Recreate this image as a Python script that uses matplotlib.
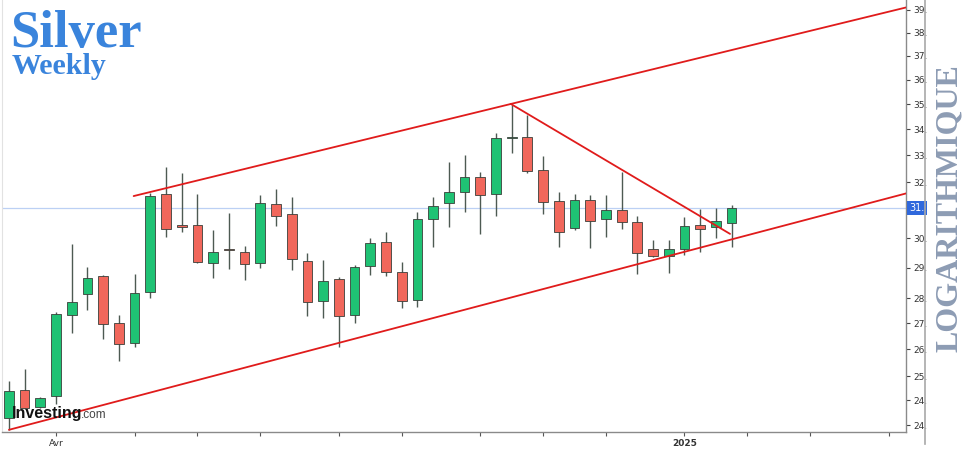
import matplotlib
matplotlib.use("Agg")
import matplotlib.pyplot as plt
import matplotlib.transforms as mtransforms
from matplotlib.lines import Line2D
from matplotlib.ticker import NullLocator, NullFormatter
import numpy as np
import pandas as pd

# ---------------- data ----------------
weeks = pd.date_range("2024-03-11", periods=47, freq="W-MON")
opens = [24.40, 25.20, 24.70, 25.02, 27.47, 28.14, 28.73, 27.22, 26.60, 28.20,
         31.57, 30.45, 30.47, 29.16, 29.62, 29.53, 29.16, 31.20, 30.85, 29.23,
         27.91, 28.63, 27.47, 29.06, 29.87, 28.86, 27.94, 30.68, 31.24, 31.64,
         32.19, 31.57, 33.68, 33.71, 32.45, 31.32, 30.36, 31.35, 30.68, 30.99,
         30.57, 29.63, 29.39, 29.63, 30.47, 30.39, 30.53]
highs = [25.46, 25.82, 25.00, 27.55, 29.81, 29.03, 28.75, 27.47, 28.80, 31.60,
         32.56, 32.34, 31.57, 30.29, 30.89, 29.74, 31.53, 31.75, 31.46, 29.50,
         29.26, 28.70, 29.09, 30.01, 30.22, 29.19, 30.92, 31.46, 32.75, 33.02,
         32.37, 33.86, 34.97, 34.57, 32.98, 31.64, 31.57, 31.53, 31.53, 32.37,
         30.78, 29.94, 29.94, 30.75, 31.03, 31.06, 31.17]
lows = [24.07, 24.65, 24.68, 24.80, 26.91, 27.63, 26.72, 26.05, 26.48, 28.01,
        30.05, 30.22, 29.16, 28.66, 28.96, 28.60, 29.00, 30.43, 28.93, 27.44,
        27.37, 26.48, 27.22, 28.76, 28.73, 27.69, 27.72, 29.70, 30.39, 30.92,
        30.15, 30.78, 33.09, 32.34, 30.85, 29.70, 30.29, 29.67, 30.05, 30.33,
        28.80, 29.36, 28.83, 29.43, 29.53, 30.01, 29.70]
closes = [25.17, 24.68, 24.97, 27.50, 27.88, 28.66, 27.19, 26.57, 28.17, 31.49,
          30.33, 30.38, 29.19, 29.53, 29.58, 29.13, 31.24, 30.78, 29.30, 27.88,
          28.56, 27.44, 29.03, 29.84, 28.86, 27.91, 30.68, 31.13, 31.64, 32.19,
          31.53, 33.67, 33.72, 32.41, 31.28, 30.22, 31.35, 30.61, 30.99, 30.57,
          29.50, 29.39, 29.63, 30.43, 30.33, 30.61, 31.06]

# trend lines (week index, price)
upper_x = [7.94, 57.2]
upper_y = [31.49, 39.13]
lower_x = [0.0, 57.2]
lower_y = [24.07, 31.60]
falling_x = [31.94, 45.9]
falling_y = [35.01, 30.15]

ytick_vals = [39.0, 38.0, 37.0, 36.0, 35.0, 34.0, 33.0, 32.0, 31.0, 30.0, 29.0,
              28.0, 27.2, 26.4, 25.6, 24.9, 24.2]
ytick_labels = ["39.", "38.", "37.", "36.", "35.", "34.", "33.", "32.", "", "30.",
                "29.", "28.", "27.", "26.", "25.", "24.", "24."]

all_weeks = pd.date_range("2024-03-11", "2025-04-14", freq="W-MON")
month_labels = {(2024, 4): "Avr", (2025, 1): "2025"}

# ---------------- figure ----------------
W, H = 964, 450
fig = plt.figure(figsize=(W / 100, H / 100), dpi=100)
fig.patch.set_facecolor("white")
ax = fig.add_axes([2 / W, 18 / H, (906 - 2) / W, (450 - 18) / H])
ax.set_facecolor("white")

x = np.arange(len(opens))
o = np.array(opens); c = np.array(closes)
hi = np.array(highs); lo = np.array(lows)
up = c >= o
up_col, dn_col = "#1fc274", "#f1675b"
cols = np.where(up, up_col, dn_col)

ax.vlines(x, lo, hi, color="#4d5a52", lw=1.0, zorder=2)
bottoms = np.minimum(o, c)
heights = np.maximum(np.abs(c - o), 0.04)
ax.bar(x, heights, bottom=bottoms, width=0.62, color=cols,
       edgecolor="#3a3f3a", linewidth=0.6, zorder=3)

# current price line
ax.axhline(closes[-1], color="#bcd0f4", lw=0.9, zorder=1)

# trend lines
for lx, ly in [(upper_x, upper_y), (lower_x, lower_y), (falling_x, falling_y)]:
    ax.plot(lx, ly, color="#e01b1b", lw=1.3, zorder=4, solid_capstyle="round")

ax.set_yscale("log")
ax.set_xlim(-0.44, 57.1)
ax.set_ylim(24.01, 39.45)

ax.yaxis.tick_right()
ax.yaxis.set_minor_locator(NullLocator())
ax.yaxis.set_minor_formatter(NullFormatter())
ax.set_yticks(ytick_vals)
ax.set_yticklabels(ytick_labels)
ax.tick_params(axis="y", length=3, width=0.8, pad=2, labelsize=6.5,
               colors="#444444", labelcolor="#333333")

# monthly ticks
tick_pos, tick_lab = [], []
for i in range(1, len(all_weeks)):
    if all_weeks[i].month != all_weeks[i - 1].month:
        tick_pos.append(i)
        tick_lab.append(month_labels.get((all_weeks[i].year, all_weeks[i].month), ""))
ax.set_xticks(tick_pos)
ax.set_xticklabels(tick_lab)
ax.tick_params(axis="x", length=3, width=0.8, pad=2, labelsize=6.5,
               colors="#555555", labelcolor="#333333")
for t in ax.get_xticklabels():
    if t.get_text() == "2025":
        t.set_fontweight("bold")

for s in ["top"]:
    ax.spines[s].set_visible(False)
ax.spines["left"].set_color("#e2e2e2")
ax.spines["right"].set_color("#8a8a8a")
ax.spines["bottom"].set_color("#8a8a8a")
ax.spines["right"].set_linewidth(1.0)
ax.spines["bottom"].set_linewidth(1.0)

# price tag
trans = mtransforms.blended_transform_factory(ax.transAxes, ax.transData)
ax.text(1.004, closes[-1], "31.", transform=trans, va="center", ha="left",
        color="white", fontsize=7, zorder=6, clip_on=False,
        bbox=dict(boxstyle="square,pad=0.25", fc="#2f68dc", ec="none"))

# separator line at right
fig.add_artist(Line2D([925 / W, 925 / W], [(450 - 444) / H, 1.0],
                      color="#a8a8a8", lw=1.2))

# vertical LOGARITHMIQUE text
fig.text(949 / W, 1 - 208 / H, "LOGARITHMIQUE", rotation=90, ha="center",
         va="center", fontsize=23, fontweight="bold", family="Liberation Serif",
         color="#8d9cb4")

# titles
fig.text(10 / W, 1 - 47 / H, "Silver", fontsize=38, fontweight="bold",
         family="Liberation Serif", color="#3a84dc", va="baseline", ha="left")
fig.text(12 / W, 1 - 74 / H, "Weekly", fontsize=21.5, fontweight="bold",
         family="Liberation Serif", color="#3a84dc", va="baseline", ha="left")

# watermark
fig.text(12 / W, 1 - 418 / H, "Investing", fontsize=11.5, fontweight="bold",
         family="Liberation Sans", color="#111111", va="baseline", ha="left",
         zorder=10)
fig.text(81 / W, 1 - 418 / H, ".com", fontsize=8.5, family="Liberation Sans",
         color="#444444", va="baseline", ha="left", zorder=10)

fig.savefig("out.png", dpi=100, facecolor="white")
